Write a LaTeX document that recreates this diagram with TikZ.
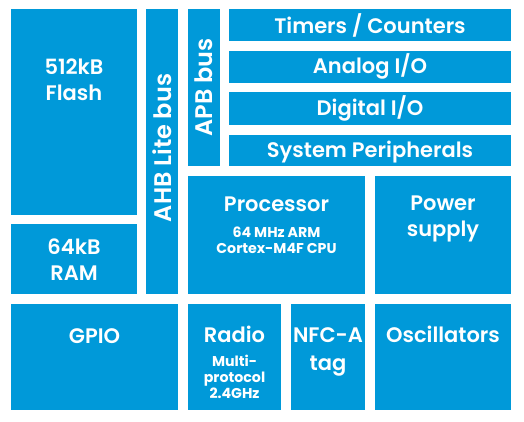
\documentclass[tikz,border=0pt]{standalone}
\usepackage{fontspec}
\setmainfont{Poppins}[UprightFont=* SemiBold, BoldFont=* Bold]
\definecolor{nblue}{HTML}{0099D9}
\begin{document}
\begin{tikzpicture}[x=1pt,y=-1pt,
  blk/.style={fill=nblue, draw=none, inner sep=0pt, anchor=north west},
  ttl/.style={text=white, font=\fontsize{21}{26}\selectfont, anchor=base, inner sep=0pt},
  vtl/.style={text=white, font=\fontsize{24}{26}\selectfont, rotate=90, anchor=center, inner sep=0pt},
  sub/.style={text=white, font=\bfseries\fontsize{14.2}{16}\selectfont, anchor=base, inner sep=0pt}]
\useasboundingbox (0,0) rectangle (524,422);
% blocks
\node[blk, minimum width=126, minimum height=206] (flash) at (11,9) {};
\node[blk, minimum width=126, minimum height=70] (ram) at (11,224) {};
\node[blk, minimum width=32, minimum height=285] (ahb) at (146,9) {};
\node[blk, minimum width=32, minimum height=157] (apb) at (188,9) {};
\node[blk, minimum width=282, minimum height=32] (tim) at (229,9) {};
\node[blk, minimum width=282, minimum height=32] (ana) at (229,51) {};
\node[blk, minimum width=282, minimum height=33] (dig) at (229,92) {};
\node[blk, minimum width=282, minimum height=31] (sys) at (229,135) {};
\node[blk, minimum width=177, minimum height=118] (proc) at (188,176) {};
\node[blk, minimum width=136, minimum height=118] (pow) at (375,176) {};
\node[blk, minimum width=167, minimum height=106] (gpio) at (11,304) {};
\node[blk, minimum width=93, minimum height=106] (rad) at (188,304) {};
\node[blk, minimum width=74, minimum height=106] (nfc) at (291,304) {};
\node[blk, minimum width=136, minimum height=106] (osc) at (375,304) {};
% texts
\node[ttl] (tflash1) at (74,75) {512kB};
\node[ttl] (tflash2) at (74,100.5) {Flash};
\node[ttl] (tram1) at (74,254) {64kB};
\node[ttl] (tram2) at (74,280) {RAM};
\node[vtl] (tahb) at (162,148) {AHB Lite bus};
\node[vtl] (tapb) at (204,87.5) {APB bus};
\node[ttl] (ttim) at (370,34) {Timers / Counters};
\node[ttl] (tana) at (370,74) {Analog I/O};
\node[ttl] (tdig) at (370,116) {Digital I/O};
\node[ttl] (tsys) at (370,158) {System Peripherals};
\node[ttl] (tproc) at (276.5,211.5) {Processor};
\node[sub] (sproc1) at (276.5,237) {64 MHz ARM};
\node[sub] (sproc2) at (276.5,253) {Cortex-M4F CPU};
\node[ttl] (tpow1) at (443,210) {Power};
\node[ttl] (tpow2) at (443,236) {supply};
\node[ttl] (tgpio) at (94.5,343) {GPIO};
\node[ttl] (trad) at (234.5,342) {Radio};
\node[sub] (srad1) at (234.5,366) {Multi-};
\node[sub] (srad2) at (234.5,382) {protocol};
\node[sub] (srad3) at (234.5,398) {2.4GHz};
\node[ttl] (tnfc1) at (328,342) {NFC-A};
\node[ttl] (tnfc2) at (328,370) {tag};
\node[ttl] (tosc) at (443,342) {Oscillators};
\end{tikzpicture}
\end{document}
